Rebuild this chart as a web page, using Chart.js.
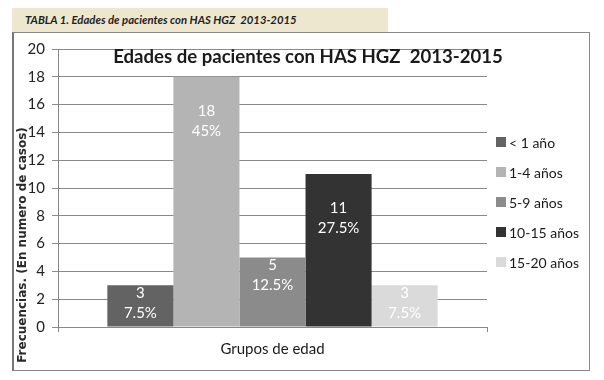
<!DOCTYPE html>
<html>
<head>
<meta charset="utf-8">
<script src="https://cdn.jsdelivr.net/npm/chart.js@4.4.1/dist/chart.umd.min.js"></script>
<style>
  body { margin: 0; background: #fff; width: 604px; height: 380px; position: relative; overflow: hidden; }
  .banner {
    position: absolute; left: 12px; top: 8px; width: 376px; height: 24px;
    background: #eee7d0;
    font: italic bold 11.3px 'Lato', 'Open Sans', sans-serif; color: #1e1e1e;
    line-height: 24px; padding-left: 13px; box-sizing: border-box;
  }
  .frame {
    position: absolute; left: 12px; top: 32px; width: 578px; height: 339px;
    border: 1px solid #888; border-left: 2px solid #777; box-sizing: border-box;
    background: #fff;
  }
  #chart { display: block; }
</style>
</head>
<body>
<div class="banner">TABLA 1. Edades de pacientes con HAS HGZ&nbsp; 2013-2015</div>
<div class="frame"><canvas id="chart" width="575" height="337"></canvas></div>
<script>
// valores
const groups = ['< 1 año', '1-4 años', '5-9 años', '10-15 años', '15-20 años'];
const counts = [3, 18, 5, 11, 3];
const colors = ['#636363', '#b4b4b4', '#8b8b8b', '#333333', '#dadada'];
const yTicks = [0, 2, 4, 6, 8, 10, 12, 14, 16, 18, 20];
const category = ['Grupos de edad'];

const chartTitle = 'Edades de pacientes con HAS HGZ  2013-2015';
const yTitle = 'Frecuencias. (En numero de casos)';
const total = counts.reduce((a, b) => a + b, 0);

// etiquetas de valor y porcentaje dentro de cada barra
const barLabels = {
  id: 'barLabels',
  afterDatasetsDraw(chart) {
    const ctx = chart.ctx;
    ctx.save();
    ctx.fillStyle = '#ffffff';
    ctx.font = '15px Lato, sans-serif';
    ctx.textAlign = 'center';
    ctx.textBaseline = 'middle';
    chart.data.datasets.forEach((ds, i) => {
      const bar = chart.getDatasetMeta(i).data[0];
      const v = ds.data[0];
      const pct = parseFloat((v / total * 100).toFixed(1)) + '%';
      const h = bar.base - bar.y;
      const off = h > 100 ? 34 : 8;
      ctx.fillText(String(v), bar.x, bar.y + off);
      ctx.fillText(pct, bar.x, bar.y + off + 20);
    });
    ctx.restore();
  }
};

// titulo, titulo del eje y y leyenda a la derecha
const extraText = {
  id: 'extraText',
  afterDraw(chart) {
    const ctx = chart.ctx;
    ctx.save();
    ctx.fillStyle = '#1a1a1a';
    ctx.font = 'bold 18.6px Lato, sans-serif';
    ctx.textAlign = 'center';
    ctx.textBaseline = 'middle';
    ctx.fillText(chartTitle, 294, 24);

    // leyenda
    ctx.textAlign = 'left';
    ctx.font = '14px Lato, sans-serif';
    chart.data.datasets.forEach((ds, i) => {
      const y = 109 + i * 30;
      ctx.fillStyle = ds.backgroundColor;
      ctx.fillRect(482, y - 5, 10, 10);
      ctx.fillStyle = '#1a1a1a';
      ctx.fillText(ds.label, 495, y + 1);
    });

    ctx.translate(9, 212);
    ctx.rotate(-Math.PI / 2);
    ctx.textAlign = 'center';
    ctx.font = 'bold 12px "DejaVu Sans", sans-serif';
    ctx.fillStyle = '#2a2a2a';
    ctx.fillText(yTitle, 0, 0);
    ctx.restore();
  }
};

new Chart(document.getElementById('chart'), {
  type: 'bar',
  data: {
    labels: category,
    datasets: groups.map((g, i) => ({
      label: g,
      data: [counts[i]],
      backgroundColor: colors[i],
      borderWidth: 0
    }))
  },
  options: {
    responsive: false,
    animation: false,
    layout: { padding: { top: 14, left: 0, right: 102, bottom: 0 } },
    datasets: { bar: { categoryPercentage: 0.77, barPercentage: 1 } },
    scales: {
      x: {
        grid: { drawOnChartArea: false, color: '#888', tickLength: 5 },
        border: { color: '#888' },
        ticks: { color: '#1a1a1a', font: { family: 'Lato', size: 15 }, padding: 8 },
        afterFit(scale) { scale.height = 43; }
      },
      y: {
        min: 0, max: 20,
        afterBuildTicks(scale) { scale.ticks = yTicks.map(v => ({ value: v })); },
        grid: { color: '#8a8a8a', tickLength: 6 },
        border: { color: '#888' },
        ticks: { color: '#222', font: { family: 'Lato', size: 15 }, padding: 7 },
        afterFit(scale) { scale.width = 44; }
      }
    },
    plugins: {
      legend: { display: false },
      title: { display: false },
      tooltip: { enabled: false }
    }
  },
  plugins: [barLabels, extraText]
});
</script>
</body>
</html>
